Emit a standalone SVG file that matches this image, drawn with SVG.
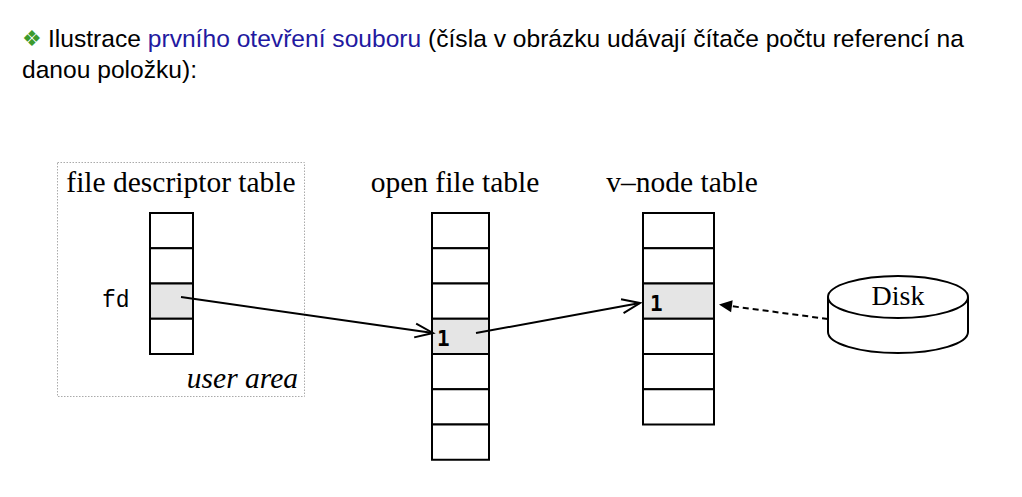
<svg xmlns="http://www.w3.org/2000/svg" width="1022" height="497" viewBox="0 0 1022 497">
<style>
.hdr{font-family:"Liberation Sans",Arial,sans-serif;font-size:24.6px;fill:#000}
.blue{fill:#2219a0}
.bullet{font-family:"DejaVu Sans",sans-serif;font-size:22px;fill:#3c9a2e}
.title{font-family:"Liberation Serif","Times New Roman",serif;font-size:29.5px;fill:#000}
.ital{font-family:"Liberation Serif","Times New Roman",serif;font-size:29.5px;font-style:italic;fill:#000}
.mono{font-family:"Liberation Mono","Courier New",monospace;font-size:23px;fill:#000}
.num{font-family:"DejaVu Sans Mono",monospace;font-size:21px;font-weight:bold;fill:#000}
.cell{fill:#fff;stroke:#000;stroke-width:2}
.hl{fill:#e5e5e5;stroke:#000;stroke-width:2}
.conn{fill:none;stroke:#000;stroke-width:2}
</style>
<defs>
<marker id="open" markerUnits="userSpaceOnUse" markerWidth="24" markerHeight="20" viewBox="-20 -10 24 20" refX="0" refY="0" orient="auto">
<path d="M-18,-7 L0,0 L-18,7" fill="none" stroke="#000" stroke-width="2"/>
</marker>
<marker id="filled" markerUnits="userSpaceOnUse" markerWidth="16" markerHeight="14" viewBox="-14 -7 16 14" refX="0" refY="0" orient="auto">
<path d="M-13,-6 L0,0 L-13,6 Z" fill="#000"/>
</marker>
</defs>
<rect width="1022" height="497" fill="#fff"/>
<g id="header">
<text class="bullet" x="22" y="46">❖</text>
<text class="hdr" x="48" y="47">Ilustrace <tspan class="blue">prvního otevření souboru</tspan> (čísla v obrázku udávají čítače počtu referencí na</text>
<text class="hdr" x="22" y="78">danou položku):</text>
</g>
<g id="user-area">
<rect x="57.5" y="162.5" width="247" height="234" fill="none" stroke="#aaa" stroke-width="1" stroke-dasharray="1.5,1.5"/>
<text class="ital" x="298" y="388" text-anchor="end">user area</text>
</g>
<g id="fd-table">
<text class="title" x="181" y="192" text-anchor="middle">file descriptor table</text>
<rect class="cell" x="150" y="213" width="43" height="35.25"/>
<rect class="cell" x="150" y="248.25" width="43" height="35.25"/>
<rect class="hl" x="150" y="283.5" width="43" height="35.25"/>
<rect class="cell" x="150" y="318.75" width="43" height="35.25"/>
<text class="mono" x="102" y="307">fd</text>
</g>
<g id="open-file-table">
<text class="title" x="455" y="192" text-anchor="middle">open file table</text>
<rect class="cell" x="432" y="213" width="57" height="35.25"/>
<rect class="cell" x="432" y="248.25" width="57" height="35.25"/>
<rect class="cell" x="432" y="283.5" width="57" height="35.25"/>
<rect class="hl" x="432" y="318.75" width="57" height="35.25"/>
<rect class="cell" x="432" y="354" width="57" height="35.25"/>
<rect class="cell" x="432" y="389.25" width="57" height="35.25"/>
<rect class="cell" x="432" y="424.5" width="57" height="35.25"/>
<text class="num" x="437" y="346">1</text>
</g>
<g id="vnode-table">
<text class="title" x="682" y="192" text-anchor="middle">v–node table</text>
<rect class="cell" x="643" y="213" width="71" height="35.25"/>
<rect class="cell" x="643" y="248.25" width="71" height="35.25"/>
<rect class="hl" x="643" y="283.5" width="71" height="35.25"/>
<rect class="cell" x="643" y="318.75" width="71" height="35.25"/>
<rect class="cell" x="643" y="354" width="71" height="35.25"/>
<rect class="cell" x="643" y="389.25" width="71" height="35.25"/>
<text class="num" x="650" y="311">1</text>
</g>
<g id="disk">
<path d="M828,297 L828,332 A70,21 0 0 0 968,332 L968,297" fill="#fff" stroke="#000" stroke-width="2"/>
<ellipse cx="898" cy="297" rx="70" ry="21" fill="#fff" stroke="#000" stroke-width="2"/>
<text class="title" x="898" y="305" text-anchor="middle" style="font-size:28px">Disk</text>
</g>
<g id="connectors">
<line class="conn" x1="181" y1="297" x2="433" y2="333" marker-end="url(#open)"/>
<line class="conn" x1="476" y1="333" x2="640" y2="303" marker-end="url(#open)"/>
<line class="conn" x1="828" y1="319" x2="719" y2="304.5" stroke-dasharray="6,4" marker-end="url(#filled)"/>
</g>
</svg>
